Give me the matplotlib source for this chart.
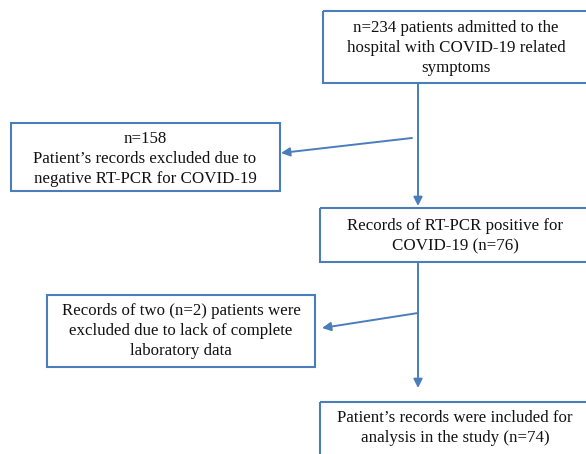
import matplotlib.pyplot as plt
from matplotlib.patches import Rectangle

# Textos de las cajas del diagrama de flujo
box_texts = [
    "n=234 patients admitted to the\nhospital with COVID-19 related\nsymptoms",
    "n=158\nPatient\u2019s records excluded due to\nnegative RT-PCR for COVID-19",
    "Records of RT-PCR positive for\nCOVID-19 (n=76)",
    "Records of two (n=2) patients were\nexcluded due to lack of complete\nlaboratory data",
    "Patient\u2019s records were included for\nanalysis in the study (n=74)",
]

# Posiciones de las cajas (x0, y0, x1, y1) en pixeles de la imagen
box_pos = [
    (323, 11, 600, 83),
    (11, 123, 280, 191),
    (320, 208, 600, 262),
    (47, 295, 315, 367),
    (320, 402, 600, 470),
]
text_center_x = [456, 145, 455, 181, 455]
text_y = [48, 159, 236, 331, 428]

# Flechas (inicio, fin)
arrows = [
    ((418, 83), (418, 206)),
    ((412, 138), (281, 153)),
    ((418, 262), (418, 388)),
    ((418, 313), (322, 328)),
]

color = '#4a7ebb'

fig = plt.figure(figsize=(5.86, 4.54), dpi=100)
ax = fig.add_axes([0, 0, 1, 1])
ax.set_xlim(0, 586)
ax.set_ylim(454, 0)
ax.axis('off')

for (x0, y0, x1, y1), txt, cx, ty in zip(box_pos, box_texts, text_center_x, text_y):
    ax.add_patch(Rectangle((x0, y0), x1 - x0, y1 - y0, fill=False,
                           edgecolor=color, linewidth=1.5, clip_on=False))
    ax.text(cx, ty, txt, ha='center', va='center', fontsize=12.2,
            family='Liberation Serif', color='#111111', linespacing=1.35)

for (sx, sy), (ex, ey) in arrows:
    ax.annotate('', xy=(ex, ey), xytext=(sx, sy),
                arrowprops=dict(arrowstyle='-|>', color=color, lw=1.4,
                                mutation_scale=13, shrinkA=0, shrinkB=0))

fig.savefig('out.png', dpi=100)
